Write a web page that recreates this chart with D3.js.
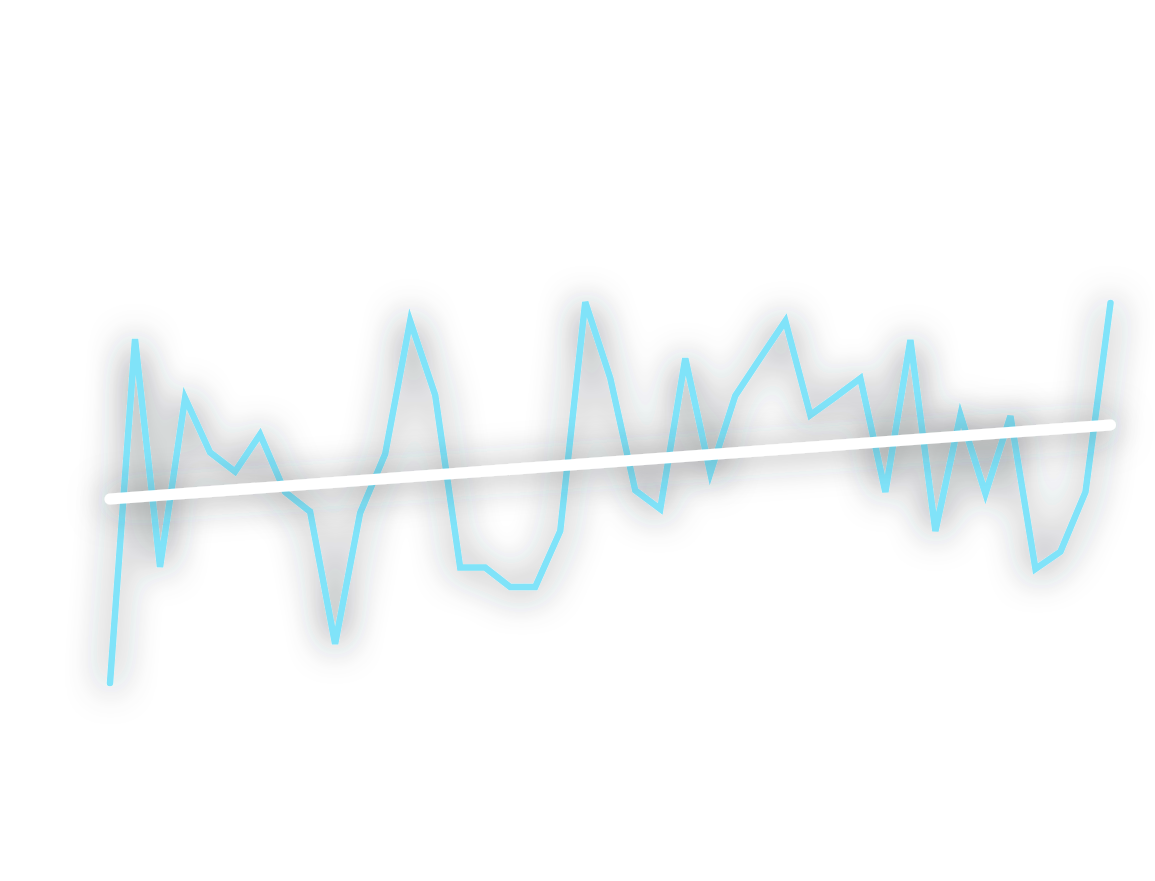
<!DOCTYPE html>
<html>
<head>
<meta charset="utf-8">
<script src="https://cdn.jsdelivr.net/npm/d3@7"></script>
<style>
  html, body { margin: 0; padding: 0; background: #ffffff; }
  svg { display: block; }
</style>
</head>
<body>
<svg id="chart" width="1155" height="881"></svg>
<script>
// Data
const indices = d3.range(41);
const values = [
  4.25, 90.25, 33.25, 75.5, 61.9, 57.1, 66.4, 52, 47.1, 14,
  46.75, 61.5, 94.75, 76.25, 33.1, 33.1, 28.25, 28.25, 42.25, 99.5,
  80.5, 52.4, 47.75, 85.4, 56.75, 76.1, 85.5, 94.75, 71.25, 75.75,
  80.4, 52, 90, 42.25, 71.25, 51.6, 71, 32.75, 37.1, 52,
  99.25
];
const trendIndex = [0, 40];
const trendValues = [50.25, 68.75];

const svg = d3.select("#chart");
const x = d3.scaleLinear().domain([0, 40]).range([110, 1110.5]);
const y = d3.scaleLinear().domain([0, 100]).range([700, 300]);

const defs = svg.append("defs");
function shadow(id, sd, op) {
  const f = defs.append("filter").attr("id", id)
    .attr("filterUnits", "userSpaceOnUse")
    .attr("x", 0).attr("y", 0).attr("width", 1155).attr("height", 881);
  f.append("feDropShadow").attr("dx", 0).attr("dy", 2).attr("stdDeviation", sd)
    .attr("flood-color", "#2a3038").attr("flood-opacity", op);
}
shadow("shadowLine", 18, 0.85);
shadow("shadowTrend", 18, 0.6);

const line = d3.line().x((d, i) => x(indices[i])).y(d => y(d));

svg.append("path")
  .datum(values)
  .attr("d", line)
  .attr("fill", "none")
  .attr("stroke", "#80e3f9")
  .attr("stroke-width", 6.5)
  .attr("stroke-linecap", "round")
  .attr("stroke-linejoin", "miter")
  .attr("filter", "url(#shadowLine)");

const tline = d3.line().x((d, i) => x(trendIndex[i])).y(d => y(d));
svg.append("path")
  .datum(trendValues)
  .attr("d", tline)
  .attr("fill", "none")
  .attr("stroke", "#ffffff")
  .attr("stroke-width", 11)
  .attr("stroke-linecap", "round")
  .attr("filter", "url(#shadowTrend)");
</script>
</body>
</html>
